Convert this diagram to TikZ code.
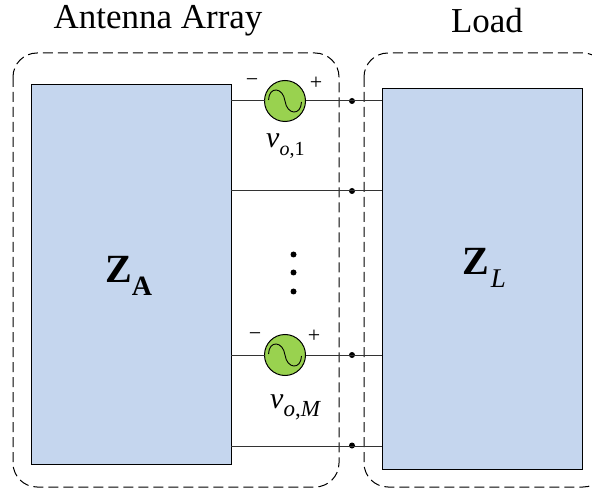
\documentclass[tikz,border=0pt]{standalone}
\usepackage{fontspec}
\setmainfont{Liberation Serif}
\definecolor{boxblue}{HTML}{C5D6EE}
\definecolor{srcgreen}{HTML}{99D24F}
\newcommand{\sz}[1]{\fontsize{#1}{#1}\selectfont}
\newcommand{\subtxt}[3]{\raisebox{#1}{\sz{#2}#3}}
\tikzset{
  x=1pt,y=-1pt,
  blockbox/.style={draw=black,fill=boxblue,line width=1pt,minimum width=200pt,minimum height=380pt,inner sep=0pt,outer sep=0pt},
  srcnode/.style={circle,draw=black,fill=srcgreen,line width=1pt,minimum size=41pt,inner sep=0pt,outer sep=0pt},
  wire/.style={line width=1pt,draw=black!80},
  junction/.style={circle,fill=black,minimum size=6pt,inner sep=0pt,outer sep=0pt},
  dashbox/.style={draw=black,line width=1pt,dash pattern=on 10pt off 5pt,rounded corners=24pt},
  title/.style={font=\sz{35},inner sep=0pt},
  sign/.style={font=\sz{22},inner sep=0pt},
  vlabel/.style={font=\sz{30},inner sep=0pt,anchor=base west},
  biglabel/.style={font=\sz{40},inner sep=0pt,anchor=base west}
}
\newcommand{\sinewave}[1]{%
  \draw[line width=0.9pt] ([xshift=-16.5pt,yshift=1pt]#1.center)
    .. controls +(0.5,-14) and +(-2,-14) .. ([yshift=0pt]#1.center)
    .. controls +(2,14) and +(-0.5,14) .. ([xshift=16.5pt,yshift=-1pt]#1.center);}
\begin{document}
\begin{tikzpicture}
\useasboundingbox (0,0) rectangle (592,489);
\begin{scope}
\clip (0,0) rectangle (592,489);
\node[blockbox] (za) at (131,274.5) {};
\node[blockbox] (zl) at (482,279) {};
\draw[dashbox] (13,53) rectangle (339,487);
\draw[dashbox] (364,53) rectangle (607,487);
\end{scope}
\coordinate (c1) at (285,101);
\coordinate (c2) at (285,191);
\coordinate (c3) at (285,355);
\coordinate (c4) at (285,446);
\node[srcnode] (s1) at (c1) {};
\node[srcnode] (s2) at (c3) {};
\node[junction] (j1) at (352,101) {};
\node[junction] (j2) at (352,191) {};
\node[junction] (j3) at (352,355) {};
\node[junction] (j4) at (352,445.5) {};
\draw[wire] (za.east |- c1) -- (s1.west);
\draw[wire] (s1.east) -- (zl.west |- c1);
\draw[wire] (za.east |- c2) -- (zl.west |- c2);
\draw[wire] (za.east |- c3) -- (s2.west);
\draw[wire] (s2.east) -- (zl.west |- c3);
\draw[wire] (za.east |- c4) -- (zl.west |- c4);
\sinewave{s1}
\sinewave{s2}
\node[title] (t1) at (158,21) {Antenna Array};
\node[title] (t2) at (487,21) {Load};
\node[sign] (m1) at (252,83) {−};
\node[sign] (p1) at (316,83) {+};
\node[sign] (m2) at (255,337) {−};
\node[sign] (p2) at (314,336) {+};
\node[vlabel] (v1) at (266,148) {\textit{v}\subtxt{-8pt}{20}{\textit{o},1}};
\node[vlabel] (v2) at (270,408) {\textit{v}\subtxt{-8pt}{23}{\textit{o},\textit{M}}};
\node[biglabel] (la) at (105,283) {\textbf{Z}\subtxt{-13pt}{28}{\textbf{A}}};
\node[biglabel] (ll) at (462,275) {\textbf{Z}\subtxt{-13pt}{27}{\kern2pt\textit{L}}};
\node[junction] (d1) at (293.5,254.5) {};
\node[junction] (d2) at (293.5,272.5) {};
\node[junction] (d3) at (293.5,291.5) {};
\end{tikzpicture}
\end{document}
